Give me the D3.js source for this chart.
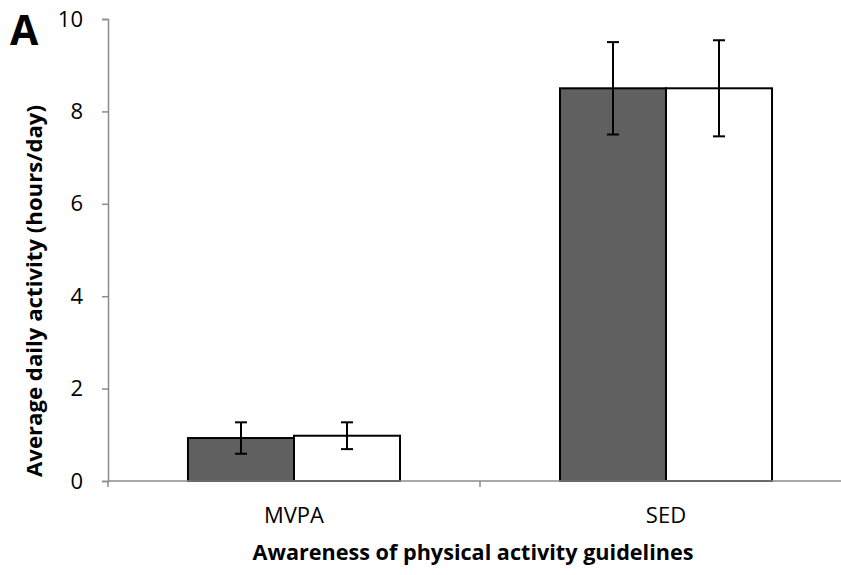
<!DOCTYPE html>
<html>
    <head>
        <style>
         body {
             margin: 0;
             background-color: #ffffff;
         }
         text {
             font-family: "Open Sans", Lato, sans-serif;
             fill: #000;
         }
        </style>
        <script src="https://d3js.org/d3.v7.min.js"></script>
    </head>
    <body>
        <svg id="chart" width="841" height="575"></svg>
        <script>
         var categories = ["MVPA", "SED"];
         var series = ["aware", "unaware"];
         var means = [[0.93, 0.98], [8.50, 8.50]];
         var errors = [[0.34, 0.29], [1.00, 1.04]];
         var yTicks = [0, 2, 4, 6, 8, 10];

         var svg = d3.select("svg");

         var y = d3.scaleLinear().domain([0, 10]).range([481, 19]);
         var x0 = d3.scaleBand().domain(categories).range([108, 852])
                    .paddingInner(0.43).paddingOuter(0.215);
         var x1 = d3.scaleBand().domain(series).range([0, x0.bandwidth()]);
         var fills = d3.scaleOrdinal().domain(series).range(["#606060", "#ffffff"]);

         // y axis
         var yAxis = svg.append("g")
                        .attr("transform", "translate(108,0)")
                        .call(d3.axisLeft(y).tickValues(yTicks).tickSize(6).tickPadding(19));
         yAxis.select(".domain").attr("stroke", "#8c8c8c").attr("stroke-width", 1.5);
         yAxis.selectAll(".tick line").attr("stroke", "#8c8c8c").attr("stroke-width", 1.5);
         yAxis.selectAll(".tick text").style("font-size", "22px").attr("fill", "#000");

         // bars
         var groups = svg.selectAll(".grp")
                         .data(categories)
                         .enter().append("g")
                         .attr("class", "grp")
                         .attr("transform", function(d) { return "translate(" + x0(d) + ",0)"; });

         groups.each(function(c, i) {
             var g = d3.select(this);
             var rows = series.map(function(s, j) {
                 return {s: s, v: means[i][j], e: errors[i][j]};
             });
             g.selectAll("rect")
              .data(rows)
              .enter().append("rect")
              .attr("x", function(d) { return x1(d.s); })
              .attr("y", function(d) { return y(d.v); })
              .attr("width", x1.bandwidth())
              .attr("height", function(d) { return y(0) - y(d.v); })
              .attr("fill", function(d) { return fills(d.s); })
              .attr("stroke", "#000")
              .attr("stroke-width", 2);

             var eb = g.selectAll(".err")
                       .data(rows)
                       .enter().append("g")
                       .attr("class", "err")
                       .attr("stroke", "#000")
                       .attr("stroke-width", 2);
             eb.append("line")
               .attr("x1", function(d) { return x1(d.s) + x1.bandwidth() / 2; })
               .attr("x2", function(d) { return x1(d.s) + x1.bandwidth() / 2; })
               .attr("y1", function(d) { return y(d.v + d.e); })
               .attr("y2", function(d) { return y(d.v - d.e); });
             [1, -1].forEach(function(sign) {
                 eb.append("line")
                   .attr("x1", function(d) { return x1(d.s) + x1.bandwidth() / 2 - 6; })
                   .attr("x2", function(d) { return x1(d.s) + x1.bandwidth() / 2 + 6; })
                   .attr("y1", function(d) { return y(d.v + sign * d.e); })
                   .attr("y2", function(d) { return y(d.v + sign * d.e); });
             });
         });

         // x axis drawn after bars, gray baseline
         var step = x0.step();
         var xAxis = svg.append("g");
         xAxis.append("line")
              .attr("x1", 108).attr("x2", 852)
              .attr("y1", y(0)).attr("y2", y(0))
              .attr("stroke", "#8c8c8c").attr("stroke-width", 1.5);
         xAxis.selectAll(".xt")
              .data(d3.range(categories.length + 1))
              .enter().append("line")
              .attr("x1", function(d) { return 108 + d * step; })
              .attr("x2", function(d) { return 108 + d * step; })
              .attr("y1", y(0)).attr("y2", y(0) + 6)
              .attr("stroke", "#8c8c8c").attr("stroke-width", 1.5);
         xAxis.selectAll(".xl")
              .data(categories)
              .enter().append("text")
              .attr("x", function(d) { return x0(d) + x0.bandwidth() / 2; })
              .attr("y", 523)
              .attr("text-anchor", "middle")
              .style("font-size", "22px")
              .text(function(d) { return d; });

         // titles
         svg.append("text")
            .attr("x", 473).attr("y", 560)
            .attr("text-anchor", "middle")
            .style("font-size", "21px").style("font-weight", "bold")
            .attr("textLength", 441).attr("lengthAdjust", "spacingAndGlyphs")
            .text("Awareness of physical activity guidelines");

         svg.append("text")
            .attr("transform", "translate(42,291) rotate(-90)")
            .attr("text-anchor", "middle")
            .style("font-size", "21px").style("font-weight", "bold")
            .attr("textLength", 372).attr("lengthAdjust", "spacingAndGlyphs")
            .text("Average daily activity (hours/day)");

         svg.append("text")
            .attr("x", 10).attr("y", 45)
            .style("font-size", "41px").style("font-weight", "bold")
            .text("A");
        </script>
    </body>
</html>
